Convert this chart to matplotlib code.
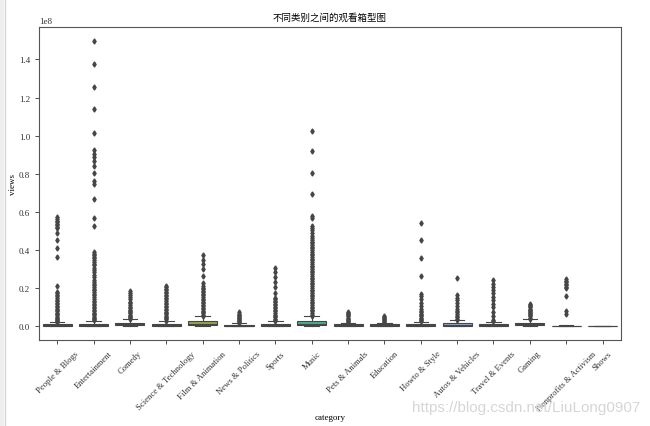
import matplotlib
matplotlib.use("Agg")
import matplotlib.pyplot as plt
import seaborn as sns
import colorsys
import numpy as np
from matplotlib.lines import Line2D
from matplotlib.patches import Rectangle

plt.rcParams['font.family'] = ['Liberation Serif', 'Noto Sans CJK SC', 'DejaVu Sans']
plt.rcParams['font.size'] = 6.5

categories = ["People & Blogs", "Entertainment", "Comedy", "Science & Technology",
              "Film & Animation", "News & Politics", "Sports", "Music",
              "Pets & Animals", "Education", "Howto & Style", "Autos & Vehicles",
              "Travel & Events", "Gaming", "Nonprofits & Activism", "Shows"]

# box statistics, in millions of views
whislo = [0.0, 0.0, 0.0, 0.0, 0.0, 0.0, 0.0, 0.0, 0.0, 0.0, 0.0, 0.0, 0.0, 0.0, 0.0, 0.0]
q1 = [0.1, 0.15, 0.4, 0.1, 0.3, 0.05, 0.1, 0.3, 0.1, 0.1, 0.1, 0.1, 0.1, 0.3, 0.05, 0.02]
med = [0.4, 0.5, 1.0, 0.4, 0.9, 0.2, 0.4, 1.0, 0.3, 0.3, 0.4, 0.4, 0.4, 0.8, 0.1, 0.05]
q3 = [0.9, 1.2, 1.8, 1.1, 2.4, 0.6, 1.1, 2.5, 0.8, 0.8, 1.0, 1.3, 0.9, 1.8, 0.2, 0.1]
whishi = [1.9, 2.6, 3.6, 2.6, 5.0, 1.4, 2.5, 5.0, 1.8, 1.8, 1.9, 2.9, 1.9, 3.6, 0.4, 0.2]

fliers_people = [57.0, 56.2, 55.4, 54.6, 53.8, 53.0, 52.2, 51.4, 49.0, 45.0, 41.0, 36.0, 21.0,
                 18.0, 17.2, 16.3, 15.5, 14.6, 13.8, 13.0, 12.2, 11.4, 10.6, 9.8, 9.0, 8.3,
                 7.6, 6.9, 6.2, 5.5, 4.9, 4.3, 3.7, 3.2, 2.7, 2.3, 2.0]
fliers_entertainment = [149.5, 137.6, 125.8, 113.9, 101.3, 92.3, 90.6, 88.9, 86.7, 84.2, 80.3,
                        76.0, 74.7, 66.5, 56.7, 52.7, 38.9, 38.0, 37.2, 36.3, 35.5, 34.6, 33.7,
                        32.8, 31.8, 30.7, 29.5, 28.3, 27.0, 25.5, 24.2, 23.2, 22.3, 21.4, 20.5,
                        19.6, 18.7, 17.8, 16.9, 16.0, 15.1, 14.2, 13.3, 12.4, 11.6, 10.8, 10.0,
                        9.2, 8.4, 7.6, 6.9, 6.2, 5.5, 4.8, 4.2, 3.6, 3.0]
fliers_comedy = [18.6, 17.3, 16.2, 15.0, 13.9, 12.8, 11.8, 10.9, 10.0, 9.3, 8.6, 7.9, 7.2,
                 6.6, 6.0, 5.4, 4.8, 4.2, 3.8]
fliers_science = [21.0, 20.3, 19.5, 18.7, 17.9, 17.1, 16.3, 15.5, 14.7, 13.9, 13.1, 12.3, 11.5,
                  10.7, 9.9, 9.1, 8.3, 7.5, 6.8, 6.1, 5.4, 4.7, 4.0, 3.4, 2.8]
fliers_film = [37.2, 34.6, 32.6, 29.8, 26.4, 22.6, 20.8, 20.0, 19.2, 18.4, 17.6, 16.8, 16.0,
               15.2, 14.4, 13.6, 12.8, 12.0, 11.2, 10.4, 9.6, 8.8, 8.0, 7.3, 6.6, 5.9, 5.3]
fliers_news = [7.1, 6.5, 5.9, 5.3, 4.7, 4.1, 3.5, 2.9, 2.4, 1.9, 1.5]
fliers_sports = [30.3, 28.3, 25.7, 22.9, 20.5, 17.4, 14.8, 14.0, 13.2, 12.4, 11.6, 10.8, 10.0,
                 9.2, 8.4, 7.6, 6.8, 6.0, 5.3, 4.6, 3.9, 3.2, 2.7]
fliers_music = [102.3, 91.8, 80.6, 69.1, 57.9, 56.7, 52.7, 51.5, 50.2, 48.6, 47.0, 46.1, 45.2,
                44.3, 43.4, 42.5, 41.6, 40.7, 39.8, 38.9, 38.0, 37.1, 36.2, 35.3, 34.4, 33.5,
                32.6, 31.7, 30.8, 29.9, 29.0, 28.1, 27.2, 26.3, 25.4, 24.5, 23.6, 22.7, 21.8,
                20.9, 20.0, 19.1, 18.2, 17.3, 16.4, 15.5, 14.6, 13.7, 12.8, 11.9, 11.0, 10.1,
                9.2, 8.4, 7.6, 6.8, 6.0, 5.3]
fliers_pets = [7.4, 6.8, 6.2, 5.6, 5.0, 4.4, 3.8, 3.2, 2.6, 2.1]
fliers_education = [5.0, 4.5, 4.0, 3.5, 3.0, 2.5, 2.1]
fliers_howto = [54.3, 45.3, 35.7, 26.2, 17.0, 15.7, 14.0, 12.2, 10.5, 8.8, 7.9, 7.2, 6.5, 5.8,
                5.1, 4.4, 3.7, 3.0, 2.4]
fliers_autos = [25.3, 16.5, 14.8, 13.6, 11.9, 10.5, 9.1, 7.9, 7.1, 6.2, 5.3, 4.5, 3.8, 3.2]
fliers_travel = [24.3, 22.2, 20.5, 18.8, 17.1, 15.3, 13.6, 11.4, 9.7, 7.1, 5.0, 3.3, 2.4]
fliers_gaming = [11.4, 10.9, 10.3, 9.7, 9.1, 8.5, 7.9, 7.3, 6.7, 6.1, 5.5, 5.0, 4.4, 3.9]
fliers_nonprofits = [24.5, 23.8, 23.0, 22.2, 21.4, 20.6, 19.8, 15.7, 7.9, 6.2]
fliers_shows = []

fliers = [fliers_people, fliers_entertainment, fliers_comedy, fliers_science, fliers_film,
          fliers_news, fliers_sports, fliers_music, fliers_pets, fliers_education,
          fliers_howto, fliers_autos, fliers_travel, fliers_gaming, fliers_nonprofits,
          fliers_shows]

unit = 1e6
stats = []
for i, name in enumerate(categories):
    stats.append(dict(label=name, whislo=whislo[i] * unit, q1=q1[i] * unit, med=med[i] * unit,
                      q3=q3[i] * unit, whishi=whishi[i] * unit,
                      fliers=np.array(fliers[i]) * unit))

# seaborn-like colours
pal = sns.husl_palette(len(categories), l=.7)
colors = [sns.desaturate(c, .75) for c in pal]
light_vals = [colorsys.rgb_to_hls(*c)[1] for c in colors]
lum = min(light_vals) * .6
gray = (lum, lum, lum)

fig = plt.figure(figsize=(6.5, 4.27), dpi=100)
ax = fig.add_axes([0.06, 0.201, 0.895, 0.733])

lw = 0.8
bp = ax.bxp(stats, positions=np.arange(len(categories)), widths=0.8, patch_artist=True,
            showfliers=True,
            boxprops=dict(edgecolor=gray, linewidth=lw),
            whiskerprops=dict(color=gray, linewidth=lw),
            capprops=dict(color=gray, linewidth=lw),
            medianprops=dict(color=gray, linewidth=lw),
            flierprops=dict(marker='d', markerfacecolor=gray, markeredgecolor=gray,
                            markersize=2.6, linestyle='none'))
for patch, c in zip(bp['boxes'], colors):
    patch.set_facecolor(c)

ax.set_xlim(-0.5, len(categories) - 0.5)
ax.set_xticks(np.arange(len(categories)))
ax.set_xticklabels(categories, rotation=45, fontsize=6.2)
ax.set_xlabel("category")
ax.xaxis.set_label_coords(0.5, -0.232)
ax.set_ylabel("views")
ax.yaxis.set_label_coords(-0.037, 0.5)
ax.set_title("不同类别之间的观看箱型图", family=['Noto Sans CJK SC'], fontsize=6.8, pad=5)
for s in ax.spines.values():
    s.set_color('#555555')
ax.tick_params(colors='#333333', length=3, width=0.6)

# screenshot frame on the left and watermark
fig.add_artist(Rectangle((0, 0), 0.006, 1, transform=fig.transFigure, color='#eeeeee', lw=0))
fig.add_artist(Line2D([0.007, 0.007], [0, 1], transform=fig.transFigure, color='#d5d5d5', lw=1))
fig.text(0.985, 0.045, "https://blog.csdn.net/LiuLong0907", ha='right', va='center',
         family=['Liberation Sans'], fontsize=11, color='#d6d6d6')

fig.savefig("out.png", dpi=100)
